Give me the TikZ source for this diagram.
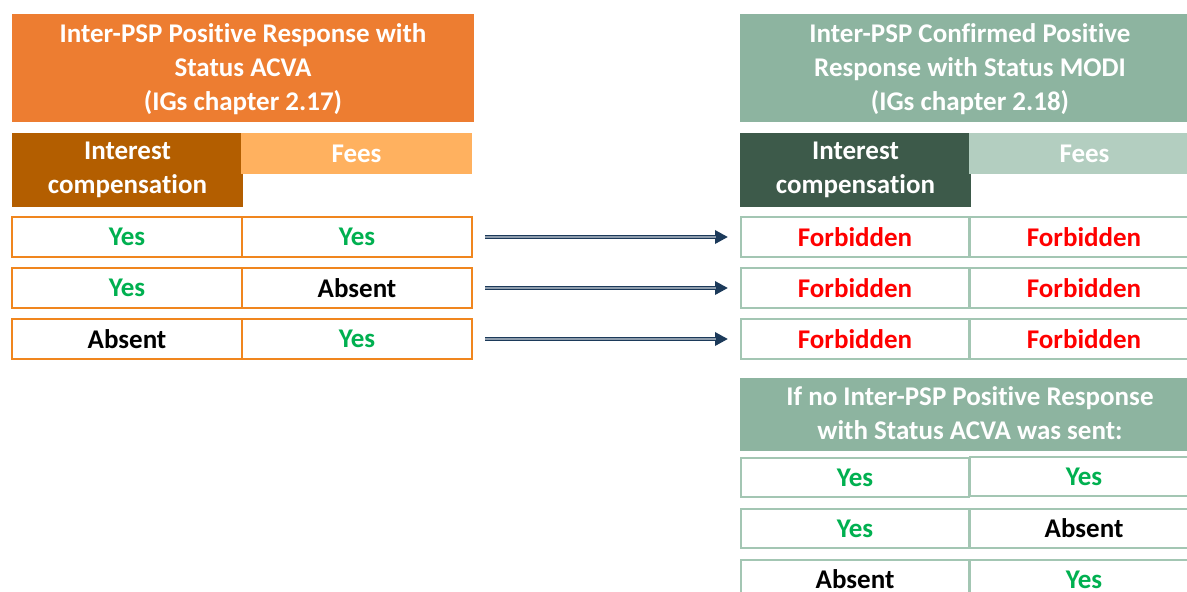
\documentclass[tikz,border=0pt]{standalone}
\usepackage{fontspec}
\setmainfont{Carlito}[Ligatures={NoCommon}]
\usetikzlibrary{arrows.meta}
\definecolor{orhead}{HTML}{ED7D31}
\definecolor{ordark}{HTML}{B35E00}
\definecolor{orlight}{HTML}{FFB15F}
\definecolor{orline}{HTML}{F0861E}
\definecolor{grhead}{HTML}{8DB4A0}
\definecolor{grdark}{HTML}{3D5A4A}
\definecolor{grlight}{HTML}{B3CEC0}
\definecolor{grline}{HTML}{A3C6B3}
\definecolor{yesgreen}{HTML}{00B050}
\definecolor{forbred}{HTML}{FF0000}
\definecolor{navy}{HTML}{1C3A5A}
\definecolor{midgray}{HTML}{8E9DAD}
\tikzset{
  txt/.style={font=\bfseries\fontsize{27}{34}\selectfont},
  box/.style={rectangle, anchor=north west, inner sep=0pt, outer sep=0pt, align=center, txt},
  hdr/.style={box, text=white},
  title/.style={text=white, txt, align=center, anchor=north, inner sep=0pt},
  cellO/.style={box, draw=orline, line width=2pt, minimum width=230pt, minimum height=40pt},
  cellG/.style={box, draw=grline, line width=2pt, minimum width=228pt, minimum height=40pt},
  arrbase/.style={draw=navy, line width=3.6pt, -{Triangle[length=13pt,width=13pt]}, shorten <=13pt, shorten >=13pt},
  arrmid/.style={draw=midgray, line width=1.1pt, shorten <=13pt, shorten >=25pt},
}
\begin{document}
\begin{tikzpicture}[x=1pt,y=-1pt]
\clip (0,0) rectangle (1187,592);
\fill[white] (0,0) rectangle (1187,592);
% left header
\node[hdr, fill=orhead, minimum width=462pt, minimum height=108pt] (lh) at (12,14) {};
\node[title] (lht) at (243,23) {Inter-PSP Positive Response with\\Status ACVA\\(IGs chapter 2.17)};
\node[hdr, fill=ordark, minimum width=231pt, minimum height=74pt] (lint) at (12,133) {Interest\\compensation};
\node[hdr, fill=orlight, minimum width=231pt, minimum height=41pt] (lfee) at (241,133) {Fees};
% left rows
\node[cellO, text=yesgreen] (l1a) at (12,217) {Yes};
\node[cellO, text=yesgreen] (l1b) at (242,217) {Yes};
\node[cellO, text=yesgreen] (l2a) at (12,268) {Yes};
\node[cellO, text=black] (l2b) at (242,268) {Absent};
\node[cellO, text=black] (l3a) at (12,319) {Absent};
\node[cellO, text=yesgreen] (l3b) at (242,319) {Yes};
% right header
\node[hdr, fill=grhead, minimum width=460pt, minimum height=108pt] (rh) at (740,14) {};
\node[title] (rht) at (970,23) {Inter-PSP Confirmed Positive\\Response with Status MODI\\(IGs chapter 2.18)};
\node[hdr, fill=grdark, minimum width=231pt, minimum height=74pt] (rint) at (740,133) {Interest\\compensation};
\node[hdr, fill=grlight, minimum width=231pt, minimum height=41pt] (rfee) at (969,133) {Fees};
% right rows
\node[cellG, text=forbred] (r1a) at (741,217) {Forbidden};
\node[cellG, text=forbred] (r1b) at (970,217) {Forbidden};
\node[cellG, text=forbred] (r2a) at (741,268) {Forbidden};
\node[cellG, text=forbred] (r2b) at (970,268) {Forbidden};
\node[cellG, text=forbred] (r3a) at (741,319) {Forbidden};
\node[cellG, text=forbred] (r3b) at (970,319) {Forbidden};
% bottom box
\node[hdr, fill=grhead, minimum width=460pt, minimum height=73pt] (bh) at (740,378) {};
\node[title] (bht) at (970,386) {If no Inter-PSP Positive Response\\with Status ACVA was sent:};
\node[cellG, minimum height=39pt, text=yesgreen] (b1a) at (741,458) {Yes};
\node[cellG, minimum height=39pt, text=yesgreen] (b1b) at (970,457) {Yes};
\node[cellG, minimum height=39pt, text=yesgreen] (b2a) at (741,509) {Yes};
\node[cellG, minimum height=39pt, text=black] (b2b) at (970,509) {Absent};
\node[cellG, minimum height=39pt, text=black] (b3a) at (741,560) {Absent};
\node[cellG, minimum height=39pt, text=yesgreen] (b3b) at (970,560) {Yes};
% arrows
\foreach \i in {1,2,3}{
  \draw[arrbase] (l\i b.east) -- (r\i a.west);
  \draw[arrmid] (l\i b.east) -- (r\i a.west);
}
\end{tikzpicture}
\end{document}
